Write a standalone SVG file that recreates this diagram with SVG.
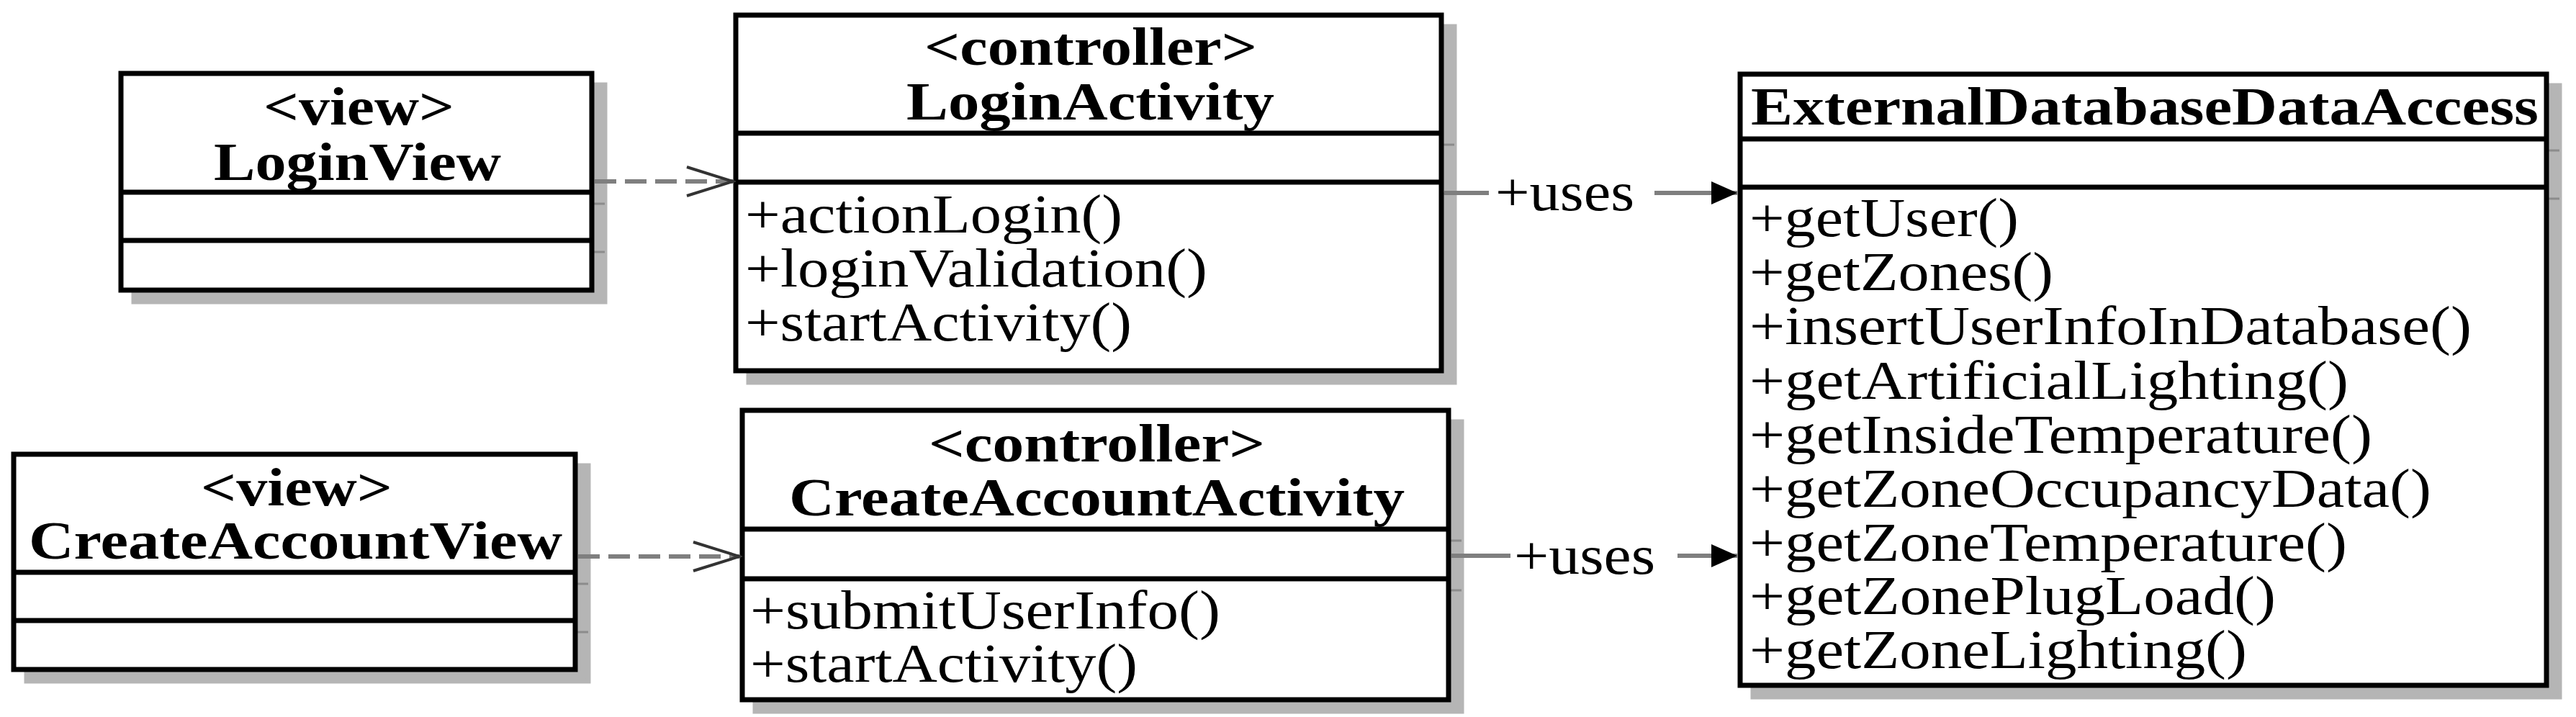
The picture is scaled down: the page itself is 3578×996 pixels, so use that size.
<svg xmlns="http://www.w3.org/2000/svg" width="3578" height="996" viewBox="0 0 3578 996">
  <style>
    .shadow { fill: #b5b5b5; stroke: #b5b5b5; stroke-width: 7; }
    .stick { stroke: #8c8c8c; stroke-width: 3; fill: none; }
    .box { fill: #ffffff; stroke: #000000; stroke-width: 7; }
    .div { stroke: #000000; stroke-width: 7; fill: none; }
    .title { font-family: "Liberation Serif", "Times New Roman", serif; font-weight: bold; font-size: 74px; fill: #000; }
    .member { font-family: "Liberation Serif", "Times New Roman", serif; font-size: 76px; fill: #000; }
    .dep { stroke: #7f7f7f; stroke-width: 6; fill: none; stroke-dasharray: 30 12; }
    .assoc { stroke: #7f7f7f; stroke-width: 6; fill: none; }
    .lbl { font-family: "Liberation Serif", "Times New Roman", serif; font-size: 76px; fill: #000; }
  </style>
  <defs>
    <marker id="openArrow" markerUnits="userSpaceOnUse" viewBox="-72 -26 76 52" refX="0" refY="0" markerWidth="76" markerHeight="52" orient="auto">
      <path d="M-64,-20 L0,0 L-64,20" fill="none" stroke="#333333" stroke-width="4"/>
    </marker>
    <marker id="filledArrow" markerUnits="userSpaceOnUse" viewBox="-40 -20 42 40" refX="0" refY="0" markerWidth="42" markerHeight="40" orient="auto">
      <path d="M-36,-16 L0,0 L-36,16 Z" fill="#000000"/>
    </marker>
  </defs>
  <rect x="0" y="0" width="3578" height="996" fill="#ffffff"/>

  <g id="LoginView">
    <g transform="translate(18,16)">
      <rect class="shadow" x="168" y="102" width="654" height="301"/>
      <path class="stick" d="M168,267 H822 M168,334 H822"/>
    </g>
    <rect class="box" x="168" y="102" width="654" height="301"/>
    <path class="div" d="M168,267 H822 M168,334 H822"/>
    <text class="title" x="366" y="173" textLength="265" lengthAdjust="spacingAndGlyphs">&lt;view&gt;</text>
    <text class="title" x="297" y="250" textLength="399" lengthAdjust="spacingAndGlyphs">LoginView</text>
  </g>

  <g id="CreateAccountView">
    <g transform="translate(18,16)">
      <rect class="shadow" x="19" y="631" width="780" height="299"/>
      <path class="stick" d="M19,795 H799 M19,862 H799"/>
    </g>
    <rect class="box" x="19" y="631" width="780" height="299"/>
    <path class="div" d="M19,795 H799 M19,862 H799"/>
    <text class="title" x="279" y="702" textLength="266" lengthAdjust="spacingAndGlyphs">&lt;view&gt;</text>
    <text class="title" x="40" y="776" textLength="741" lengthAdjust="spacingAndGlyphs">CreateAccountView</text>
  </g>

  <g id="LoginActivity">
    <g transform="translate(18,16)">
      <rect class="shadow" x="1022" y="21" width="980" height="494"/>
      <path class="stick" d="M1022,185 H2002 M1022,253 H2002"/>
    </g>
    <rect class="box" x="1022" y="21" width="980" height="494"/>
    <path class="div" d="M1022,185 H2002 M1022,253 H2002"/>
    <text class="title" x="1284" y="90" textLength="462" lengthAdjust="spacingAndGlyphs">&lt;controller&gt;</text>
    <text class="title" x="1259" y="166" textLength="511" lengthAdjust="spacingAndGlyphs">LoginActivity</text>
    <text class="member" x="1035" y="323" textLength="524" lengthAdjust="spacingAndGlyphs">+actionLogin()</text>
    <text class="member" x="1035" y="398" textLength="642" lengthAdjust="spacingAndGlyphs">+loginValidation()</text>
    <text class="member" x="1035" y="473" textLength="537" lengthAdjust="spacingAndGlyphs">+startActivity()</text>
  </g>

  <g id="CreateAccountActivity">
    <g transform="translate(18,16)">
      <rect class="shadow" x="1031" y="570" width="981" height="402"/>
      <path class="stick" d="M1031,735 H2012 M1031,804 H2012"/>
    </g>
    <rect class="box" x="1031" y="570" width="981" height="402"/>
    <path class="div" d="M1031,735 H2012 M1031,804 H2012"/>
    <text class="title" x="1290" y="641" textLength="467" lengthAdjust="spacingAndGlyphs">&lt;controller&gt;</text>
    <text class="title" x="1096" y="716" textLength="855" lengthAdjust="spacingAndGlyphs">CreateAccountActivity</text>
    <text class="member" x="1042" y="873" textLength="653" lengthAdjust="spacingAndGlyphs">+submitUserInfo()</text>
    <text class="member" x="1042" y="947" textLength="538" lengthAdjust="spacingAndGlyphs">+startActivity()</text>
  </g>

  <g id="ExternalDatabaseDataAccess">
    <g transform="translate(18,16)">
      <rect class="shadow" x="2417" y="103" width="1120" height="849"/>
      <path class="stick" d="M2417,193 H3537 M2417,260 H3537"/>
    </g>
    <rect class="box" x="2417" y="103" width="1120" height="849"/>
    <path class="div" d="M2417,193 H3537 M2417,260 H3537"/>
    <text class="title" x="2432" y="173" textLength="1094" lengthAdjust="spacingAndGlyphs">ExternalDatabaseDataAccess</text>
    <text class="member" x="2430" y="328" textLength="374" lengthAdjust="spacingAndGlyphs">+getUser()</text>
    <text class="member" x="2430" y="403" textLength="422" lengthAdjust="spacingAndGlyphs">+getZones()</text>
    <text class="member" x="2430" y="478" textLength="1003" lengthAdjust="spacingAndGlyphs">+insertUserInfoInDatabase()</text>
    <text class="member" x="2430" y="554" textLength="832" lengthAdjust="spacingAndGlyphs">+getArtificialLighting()</text>
    <text class="member" x="2430" y="629" textLength="865" lengthAdjust="spacingAndGlyphs">+getInsideTemperature()</text>
    <text class="member" x="2430" y="704" textLength="947" lengthAdjust="spacingAndGlyphs">+getZoneOccupancyData()</text>
    <text class="member" x="2430" y="779" textLength="830" lengthAdjust="spacingAndGlyphs">+getZoneTemperature()</text>
    <text class="member" x="2430" y="853" textLength="731" lengthAdjust="spacingAndGlyphs">+getZonePlugLoad()</text>
    <text class="member" x="2430" y="928" textLength="691" lengthAdjust="spacingAndGlyphs">+getZoneLighting()</text>
  </g>

  <g id="connectors">
    <path class="dep" d="M826,252 H1018" marker-end="url(#openArrow)"/>
    <path class="dep" d="M803,773 H1027" marker-end="url(#openArrow)"/>
    <path class="assoc" d="M2006,268 H2068 M2298,268 H2413" marker-end="url(#filledArrow)"/>
    <text class="lbl" x="2077" y="292" textLength="193" lengthAdjust="spacingAndGlyphs">+uses</text>
    <path class="assoc" d="M2016,772 H2098 M2330,772 H2413" marker-end="url(#filledArrow)"/>
    <text class="lbl" x="2103" y="797" textLength="196" lengthAdjust="spacingAndGlyphs">+uses</text>
  </g>
</svg>
